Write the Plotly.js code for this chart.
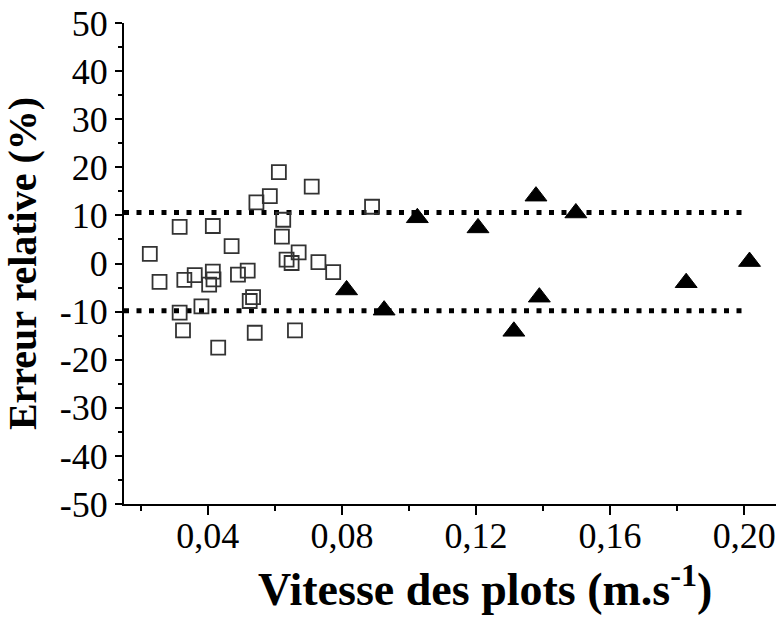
<!DOCTYPE html>
<html>
<head>
<meta charset="utf-8">
<script src="https://cdn.plot.ly/plotly-3.0.1.min.js"></script>
<style>html,body{margin:0;padding:0;background:#fff;}#chart{width:776px;height:617px;}</style>
</head>
<body>
<div id="chart"></div>
<script>
// Open squares series
const squareX = [0.0612, 0.0710, 0.0585, 0.0545, 0.0890, 0.0625, 0.0316, 0.0415, 0.0621, 0.0471,
                 0.0227, 0.0671, 0.0635, 0.0650, 0.0730, 0.0774, 0.0256, 0.0330, 0.0361, 0.0415,
                 0.0417, 0.0404, 0.0490, 0.0519, 0.0535, 0.0525, 0.0381, 0.0316, 0.0326, 0.0540,
                 0.0660, 0.0431];
const squareY = [19.0, 16.0, 14.0, 12.7, 11.8, 9.1, 7.6, 7.8, 5.6, 3.6,
                 2.0, 2.3, 0.8, 0.1, 0.3, -1.8, -3.8, -3.4, -2.4, -1.7,
                 -3.3, -4.4, -2.3, -1.5, -7.0, -7.8, -8.9, -10.2, -13.9, -14.4,
                 -13.9, -17.5];
// Filled triangles series
const triangleX = [0.1025, 0.1206, 0.1379, 0.1498, 0.0814, 0.0926, 0.1389, 0.1313, 0.1827, 0.2016];
const triangleY = [9.5, 7.4, 14.0, 10.5, -5.5, -9.7, -7.0, -14.1, -4.0, 0.4];
// Limit lines
const limitX = [0.015, 0.200];
const upperLimit = 10.6;
const lowerLimit = -9.8;
// Tick labels
const xTickVals = [0.04, 0.08, 0.12, 0.16, 0.20];
const xTickText = ["0,04", "0,08", "0,12", "0,16", "0,20"];
const yTickVals = [-50, -40, -30, -20, -10, 0, 10, 20, 30, 40, 50];
const yTickText = ["-50", "-40", "-30", "-20", "-10", "0", "10", "20", "30", "40", "50"];

const serif = "'Liberation Serif', 'Times New Roman', serif";

const traces = [
  {x: limitX, y: [upperLimit, upperLimit], mode: "lines", line: {color: "black", width: 5, dash: "5px,7.5px"}, hoverinfo: "skip"},
  {x: limitX, y: [lowerLimit, lowerLimit], mode: "lines", line: {color: "black", width: 5, dash: "5px,7.5px"}, hoverinfo: "skip"},
  {x: squareX, y: squareY, mode: "markers", marker: {symbol: "square-open", size: 14, color: "#333", line: {width: 1.8, color: "#333"}}},
  {x: triangleX, y: triangleY, mode: "markers", marker: {symbol: "triangle-up", size: 19, color: "black", line: {width: 1, color: "black"}}}
];

const layout = {
  width: 776, height: 617,
  margin: {l: 124, r: 0, t: 23, b: 113},
  paper_bgcolor: "white", plot_bgcolor: "white",
  showlegend: false,
  font: {family: serif, color: "black"},
  xaxis: {
    range: [0.015, 0.2095], showgrid: false, zeroline: false,
    showline: true, linecolor: "black", linewidth: 2,
    tickmode: "array", tickvals: xTickVals, ticktext: xTickText,
    ticks: "outside", ticklen: 9, tickwidth: 2, tickcolor: "black",
    ticklabelstandoff: -10,
    tickfont: {family: serif, size: 36, color: "black"},
    minor: {tickmode: "linear", tick0: 0, dtick: 0.02, ticks: "outside", ticklen: 5, tickwidth: 2, tickcolor: "black"}
  },
  yaxis: {
    range: [-50, 50], showgrid: false, zeroline: false,
    showline: true, linecolor: "black", linewidth: 2,
    tickmode: "array", tickvals: yTickVals, ticktext: yTickText,
    ticks: "outside", ticklen: 7, tickwidth: 2, tickcolor: "black",
    tickfont: {family: serif, size: 36, color: "black"},
    minor: {tickmode: "linear", tick0: 0, dtick: 5, ticks: "outside", ticklen: 4, tickwidth: 2, tickcolor: "black"},
    title: {text: "<b>Erreur relative (%)</b>", font: {family: serif, size: 40, color: "black"}, standoff: 19}
  },
  annotations: [{
    text: "<b>Vitesse des plots (m.s<sup>-1</sup>)</b>",
    xref: "paper", yref: "paper", x: 0.554, y: -0.17,
    xanchor: "center", yanchor: "middle", showarrow: false,
    font: {family: serif, size: 46, color: "black"}
  }]
};

Plotly.newPlot("chart", traces, layout, {displayModeBar: false, staticPlot: true});
</script>
</body>
</html>
